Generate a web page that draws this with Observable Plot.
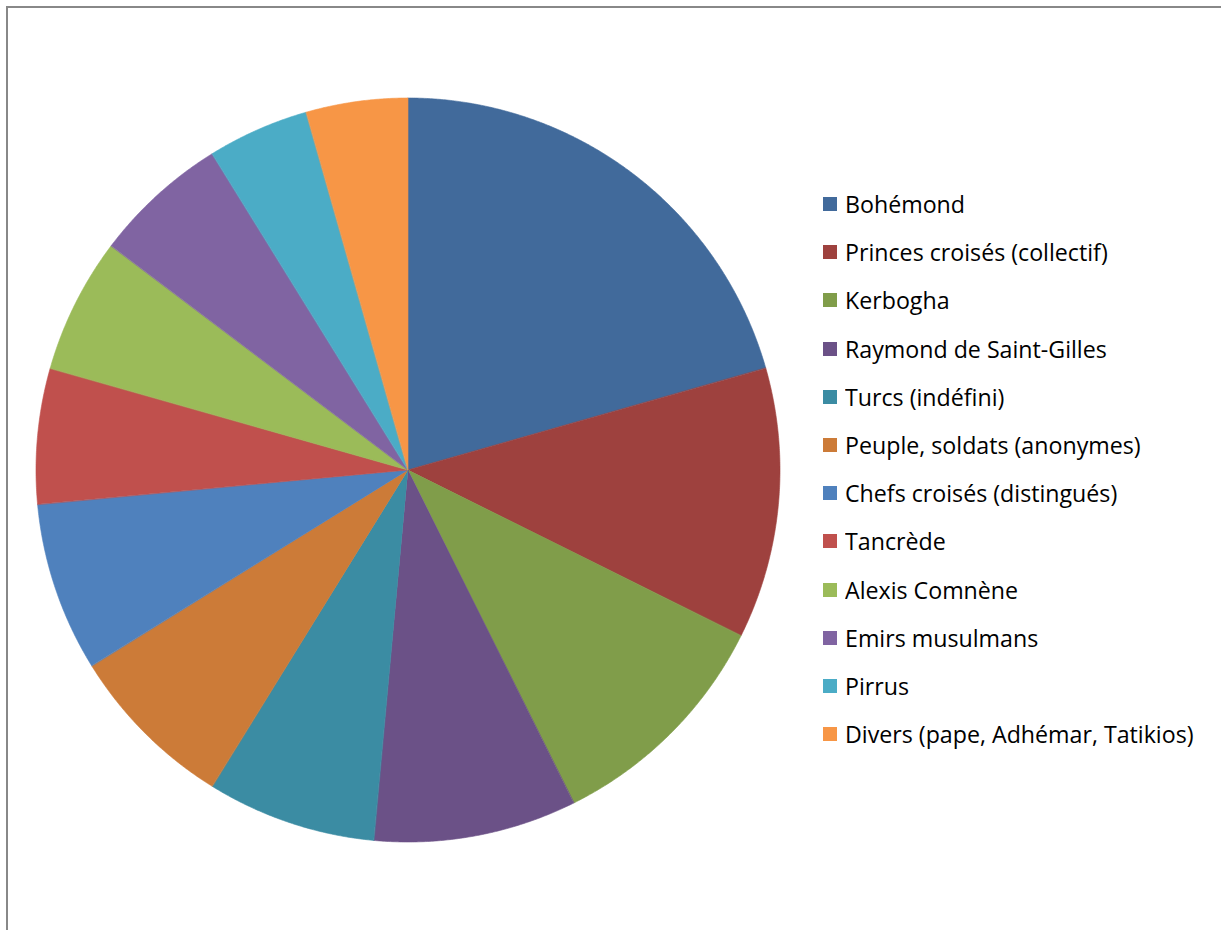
<!DOCTYPE html>
<html>
<head>
<meta charset="utf-8">
<script src="https://cdn.jsdelivr.net/npm/d3@7"></script>
<script src="https://cdn.jsdelivr.net/npm/@observablehq/plot@0.6"></script>
<style>
  html, body { margin: 0; padding: 0; background: #fff; }
  #wrap { position: relative; width: 1221px; height: 930px; overflow: hidden; }
  #frame { position: absolute; left: 6px; top: 6px; width: 1215px; height: 924px;
           border-left: 2px solid #888; border-top: 2px solid #888; box-sizing: border-box; }
  #chart { position: absolute; left: 0; top: 0; }
  #legend { position: absolute; left: 823px; top: 180px; }
  #legend .lg-swatches { font-family: "Open Sans", sans-serif !important; font-size: 23.2px !important;
                         color: #000 !important; margin: 0 !important; columns: auto !important; }
  #legend .lg-swatch { height: 48.2px !important; padding: 0 !important; margin: 0 !important;
                       display: flex !important; align-items: center !important; white-space: nowrap; }
  #legend .lg-swatch > svg { margin-right: 8px !important; }
</style>
</head>
<body>
<div id="wrap">
  <div id="frame"></div>
  <div id="chart"></div>
  <div id="legend"></div>
</div>
<script>
const names = [
  "Bohémond",
  "Princes croisés (collectif)",
  "Kerbogha",
  "Raymond de Saint-Gilles",
  "Turcs (indéfini)",
  "Peuple, soldats (anonymes)",
  "Chefs croisés (distingués)",
  "Tancrède",
  "Alexis Comnène",
  "Emirs musulmans",
  "Pirrus",
  "Divers (pape, Adhémar, Tatikios)"
];
const values = [14, 8, 7, 6, 5, 5, 5, 4, 4, 4, 3, 3];
const colors = [
  "#416A9B", "#9E413E", "#809D4A", "#6B5187", "#3B8CA3", "#CC7B38",
  "#4F81BD", "#C0504D", "#9BBB59", "#8064A2", "#4BACC6", "#F79646"
];

// Build wedge geometry from the pie layout of the values
const arcs = d3.pie().sort(null).value(d => d.value)(names.map((name, i) => ({name, value: values[i]})));
const wedgePts = [];
for (const a of arcs) {
  const n = Math.max(2, Math.ceil((a.endAngle - a.startAngle) / 0.005));
  for (let k = 0; k <= n; ++k) {
    const t = a.startAngle + (a.endAngle - a.startAngle) * k / n;
    wedgePts.push({name: a.data.name, x2: Math.sin(t), y2: Math.cos(t)});
  }
}

const color = {type: "ordinal", domain: names, range: colors};

const chart = Plot.plot({
  width: 1221,
  height: 930,
  marginLeft: 36,
  marginRight: 441,
  marginTop: 98,
  marginBottom: 88,
  x: {domain: [-1, 1], axis: null},
  y: {domain: [-1, 1], axis: null},
  color,
  style: {background: "transparent"},
  marks: [
    Plot.area(wedgePts, {
      x1: () => 0, y1: () => 0, x2: "x2", y2: "y2",
      z: "name", fill: "name", stroke: "name", strokeWidth: 0.6, curve: "linear"
    })
  ]
});
document.getElementById("chart").appendChild(chart);

const legend = Plot.legend({
  color,
  legend: "swatches",
  columns: 1,
  swatchSize: 14,
  className: "lg"
});
document.getElementById("legend").appendChild(legend);
</script>
</body>
</html>
